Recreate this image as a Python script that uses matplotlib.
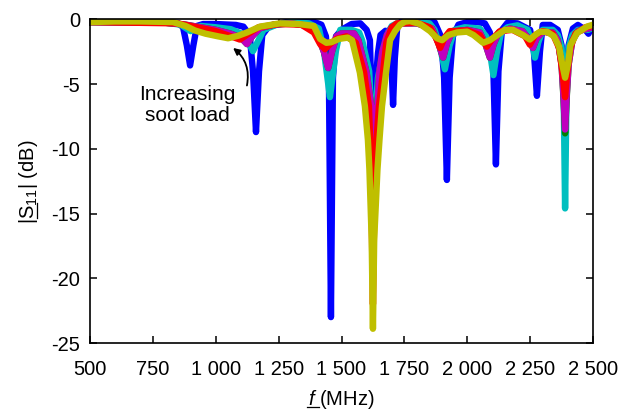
import matplotlib
matplotlib.use("Agg")
import matplotlib.pyplot as plt
from matplotlib.lines import Line2D
from matplotlib.transforms import IdentityTransform

plt.rcParams['font.family'] = ['Liberation Sans', 'DejaVu Sans']
plt.rcParams['mathtext.fontset'] = 'custom'
plt.rcParams['mathtext.rm'] = 'Liberation Sans'
plt.rcParams['mathtext.it'] = 'Liberation Sans:italic'
plt.rcParams['axes.unicode_minus'] = False

# ---- data (frequency MHz, |S11| dB) ----
blue_f = [500, 600, 750, 850, 870, 885, 898, 911, 925, 950, 1000, 1080, 1110, 1135, 1148, 1160, 1172, 1185,
          1210, 1240, 1300, 1380, 1420, 1438, 1450, 1458, 1466, 1478, 1500, 1540, 1575, 1600, 1613, 1619,
          1625, 1631, 1645, 1655, 1675, 1692, 1699, 1705, 1712, 1722, 1740, 1780, 1800, 1830, 1870, 1895,
          1908, 1919, 1930, 1943, 1965, 2000, 2040, 2070, 2090, 2104, 2114, 2124, 2138, 2160, 2200, 2225,
          2250, 2265, 2277, 2289, 2300, 2330, 2360, 2375, 2389, 2403, 2420, 2440, 2470, 2482, 2495, 2500]
blue_db = [-0.2, -0.15, -0.2, -0.27, -0.6, -2.0, -3.55, -2.0, -0.5, -0.35, -0.35, -0.42, -0.55, -1.2, -4.0,
           -8.7, -4.0, -1.2, -0.55, -0.4, -0.1, -0.1, -0.4, -1.3, -4.5, -23.0, -4.5, -1.3, -0.8, -0.35, -0.3,
           -0.8, -1.6, -6.0, -19.0, -6.0, -2.6, -1.2, -0.87, -1.5, -3.5, -6.6, -3.0, -0.5, -0.1, -0.05,
           -0.3, -0.05, -0.2, -1.3, -4.5, -12.4, -4.5, -1.3, -0.4, -0.2, -0.2, -0.3, -1.0, -4.0, -11.2,
           -4.0, -0.8, -0.25, -0.3, -0.55, -0.8, -2.5, -5.9, -2.5, -0.42, -0.42, -0.8, -2.0, -5.0, -2.0,
           -0.7, -0.42, -0.8, -1.1, -0.6, -0.5]

cyan_f = [500, 800, 860, 900, 940, 1000, 1060, 1100, 1125, 1148, 1170, 1190, 1240, 1300, 1370, 1410, 1430,
          1444, 1454, 1464, 1478, 1495, 1540, 1570, 1582, 1610, 1620, 1625, 1632, 1645, 1660, 1672, 1685,
          1700, 1720, 1780, 1850, 1870, 1890, 1911, 1930, 1950, 1990, 2050, 2075, 2090, 2104, 2118, 2135,
          2160, 2200, 2240, 2258, 2269, 2282, 2300, 2340, 2360, 2375, 2383, 2389, 2395, 2403, 2418, 2440,
          2480, 2500]
cyan_db = [-0.2, -0.25, -0.4, -0.9, -0.5, -0.6, -0.75, -1.07, -1.6, -2.45, -1.6, -0.8, -0.42, -0.2, -0.3,
           -0.7, -2.4, -4.5, -6.0, -4.5, -2.4, -0.8, -0.8, -1.0, -1.6, -4.0, -8.0, -18.0, -8.0, -4.5, -3.0,
           -2.4, -1.0, -0.5, -0.3, -0.2, -0.3, -0.8, -2.0, -3.85, -2.0, -0.8, -0.6, -0.7, -1.3, -2.5, -4.3,
           -2.5, -1.0, -0.6, -0.45, -0.8, -1.8, -2.95, -1.8, -0.8, -0.8, -1.2, -2.2, -5.0, -14.6, -5.0, -2.2,
           -1.2, -0.8, -0.8, -0.65]

mag_f = [500, 800, 880, 1000, 1060, 1100, 1124, 1145, 1175, 1230, 1300, 1370, 1405, 1430, 1447, 1462, 1480,
         1500, 1550, 1567, 1600, 1618, 1627, 1636, 1643, 1650, 1662, 1680, 1700, 1730, 1800, 1860, 1885,
         1904, 1920, 1940, 2000, 2050, 2072, 2090, 2105, 2125, 2170, 2220, 2245, 2261, 2275, 2300, 2340,
         2360, 2375, 2383, 2389, 2395, 2403, 2418, 2440, 2480, 2500]
mag_db = [-0.2, -0.25, -0.4, -0.8, -1.1, -1.4, -1.9, -1.3, -0.68, -0.4, -0.3, -0.5, -1.2, -2.5, -3.75, -2.5,
          -1.3, -1.07, -1.07, -1.6, -4.1, -6.7, -10.3, -7.5, -6.7, -4.1, -2.5, -1.2, -0.6, -0.3, -0.3, -0.7,
          -1.8, -2.95, -1.8, -0.95, -0.8, -1.0, -1.9, -2.95, -1.9, -1.0, -0.7, -0.9, -1.5, -2.2, -1.5, -0.95,
          -1.0, -1.6, -3.5, -6.0, -8.5, -6.0, -3.5, -1.6, -0.9, -0.7, -0.6]

green_f = [500, 800, 880, 1000, 1060, 1100, 1124, 1145, 1175, 1230, 1300, 1370, 1405, 1430, 1447, 1462, 1480,
           1500, 1550, 1567, 1600, 1618, 1627, 1636, 1643, 1650, 1662, 1680, 1700, 1730, 1800, 1860, 1885,
           1904, 1920, 1940, 2000, 2050, 2072, 2090, 2105, 2125, 2170, 2220, 2245, 2261, 2275, 2300, 2340,
           2360, 2375, 2383, 2389, 2395, 2403, 2418, 2440, 2480, 2500]
green_db = [-0.2, -0.25, -0.4, -0.8, -1.1, -1.4, -1.9, -1.3, -0.68, -0.4, -0.3, -0.5, -1.2, -2.5, -3.75, -2.5,
            -1.3, -1.07, -1.07, -1.6, -4.1, -6.7, -10.3, -7.5, -6.7, -4.1, -2.5, -1.2, -0.6, -0.3, -0.3, -0.7,
            -1.8, -2.95, -1.8, -0.95, -0.8, -1.0, -1.9, -2.95, -1.9, -1.0, -0.7, -0.9, -1.5, -2.2, -1.5, -0.95,
            -1.0, -1.6, -3.5, -6.2, -8.8, -6.2, -3.5, -1.6, -0.9, -0.7, -0.6]

red_f = [500, 850, 1000, 1060, 1096, 1130, 1170, 1250, 1340, 1390, 1415, 1434, 1455, 1480, 1520, 1557, 1590,
         1609, 1617, 1625, 1633, 1649, 1665, 1678, 1700, 1720, 1800, 1850, 1875, 1892, 1910, 1930, 2000,
         2050, 2078, 2100, 2130, 2180, 2230, 2249, 2270, 2300, 2340, 2365, 2378, 2389, 2398, 2410, 2430,
         2470, 2500]
red_db = [-0.2, -0.3, -0.9, -1.3, -1.55, -1.1, -0.6, -0.35, -0.4, -1.0, -1.9, -2.3, -1.9, -1.5, -1.3, -1.8,
          -4.1, -6.7, -11.0, -22.0, -11.0, -6.7, -4.1, -1.8, -0.6, -0.3, -0.25, -0.6, -1.4, -2.2, -1.4, -0.9,
          -0.85, -1.2, -2.1, -1.5, -0.9, -0.8, -1.3, -1.95, -1.2, -0.9, -1.1, -2.2, -4.0, -6.0, -4.0, -2.2,
          -1.1, -0.6, -0.5]

yel_f = [500, 600, 700, 830, 880, 917, 960, 1009, 1049, 1090, 1124, 1176, 1255, 1330, 1390, 1415, 1440,
         1460, 1490, 1525, 1542, 1573, 1593, 1605, 1611, 1620, 1625, 1630, 1643, 1651, 1661, 1677, 1693,
         1713, 1733, 1752, 1772, 1812, 1852, 1880, 1900, 1925, 1960, 1999, 2025, 2063, 2090, 2120,
         2150, 2182, 2222, 2249, 2270, 2289, 2317, 2345, 2365, 2377, 2389, 2401, 2410, 2436, 2476, 2500]
yel_db = [-0.2, -0.15, -0.15, -0.2, -0.5, -0.85, -1.1, -1.3, -1.45, -1.25, -1.0, -0.55, -0.3, -0.35, -0.5,
          -1.5, -1.8, -1.75, -1.5, -1.4, -1.6, -4.1, -6.7, -9.3, -11.6, -17.0, -23.9, -17.0, -11.6, -9.3,
          -6.7, -4.1, -1.6, -0.9, -0.4, -0.17, -0.12, -0.35, -0.9, -1.45, -1.6, -1.2, -1.0, -0.94,
          -1.2, -1.8, -1.6, -1.2, -0.8, -0.8, -1.2, -1.55, -1.2, -0.95, -0.95, -1.3, -2.1, -3.4, -4.5, -3.4,
          -2.0, -1.05, -0.55, -0.4]

xticks = [500, 750, 1000, 1250, 1500, 1750, 2000, 2250, 2500]
xticklabels = ['500', '750', '1 000', '1 250', '1 500', '1 750', '2 000', '2 250', '2 500']
yticks = [0, -5, -10, -15, -20, -25]
yticklabels = ['0', '-5', '-10', '-15', '-20', '-25']

series = [
    (blue_f, blue_db, (0, 0, 1)),
    (cyan_f, cyan_db, (0, 0.75, 0.75)),
    (green_f, green_db, (0, 0.5, 0)),
    (mag_f, mag_db, (0.75, 0, 0.75)),
    (red_f, red_db, (1, 0, 0)),
    (yel_f, yel_db, (0.75, 0.75, 0)),
]

fig = plt.figure(figsize=(6.37, 4.11), dpi=100)
ax = fig.add_axes([90 / 637, 1 - 343 / 411, (593 - 90) / 637, (343 - 19.5) / 411])

for f, db, c in series:
    ax.plot(f, db, color=c, lw=4.6, solid_joinstyle='round', solid_capstyle='round')

ax.set_xlim(500, 2500)
ax.set_ylim(-25, 0)
ax.set_xticks(xticks)
ax.set_xticklabels(xticklabels)
ax.set_yticks(yticks)
ax.set_yticklabels(yticklabels)
ax.tick_params(direction='in', top=True, right=True, length=5, width=1.1, labelsize=14.5, pad=7)
ax.tick_params(axis='x', pad=12.5)
for s in ax.spines.values():
    s.set_linewidth(1.2)

ax.text(886, -6.6, 'Increasing\nsoot load', ha='center', va='center', fontsize=15, linespacing=1.15)
ax.annotate('', xy=(1069, -2.2), xytext=(1124, -5.1),
            arrowprops=dict(arrowstyle='-|>', color='black', lw=1.3, mutation_scale=10,
                            connectionstyle='arc3,rad=0.3', shrinkA=0, shrinkB=0))

ax.set_xlabel(r'$f$ (MHz)', fontsize=14.5, labelpad=6)
ax.set_ylabel(r'$|\mathrm{S}_{11}|$ (dB)', fontsize=14.5, labelpad=8)

# underline the f and the S (drawn in display coordinates)
fig.canvas.draw()
r = fig.canvas.get_renderer()

xlab = ax.xaxis.label
fp = xlab.get_fontproperties()
bb = xlab.get_window_extent(r)
wf, _, _ = r.get_text_width_height_descent(r'$f$', fp, ismath=True)
_, _, dall = r.get_text_width_height_descent(xlab.get_text(), fp, ismath=True)
yb = bb.y0 + dall - 2.5
fig.add_artist(Line2D([bb.x0 - 1, bb.x0 + wf + 1], [yb, yb], transform=IdentityTransform(),
                      color='black', lw=0.9))

ylab = ax.yaxis.label
fp = ylab.get_fontproperties()
bb = ylab.get_window_extent(r)
w1, _, _ = r.get_text_width_height_descent(r'$|$', fp, ismath=True)
w2, _, _ = r.get_text_width_height_descent(r'$|\mathrm{S}$', fp, ismath=True)
_, _, dall = r.get_text_width_height_descent(ylab.get_text(), fp, ismath=True)
xb = bb.x1 - dall + 2.5
fig.add_artist(Line2D([xb, xb], [bb.y0 + w1, bb.y0 + w2 + 0.5], transform=IdentityTransform(),
                      color='black', lw=0.9))

fig.savefig('out.png', dpi=100)
